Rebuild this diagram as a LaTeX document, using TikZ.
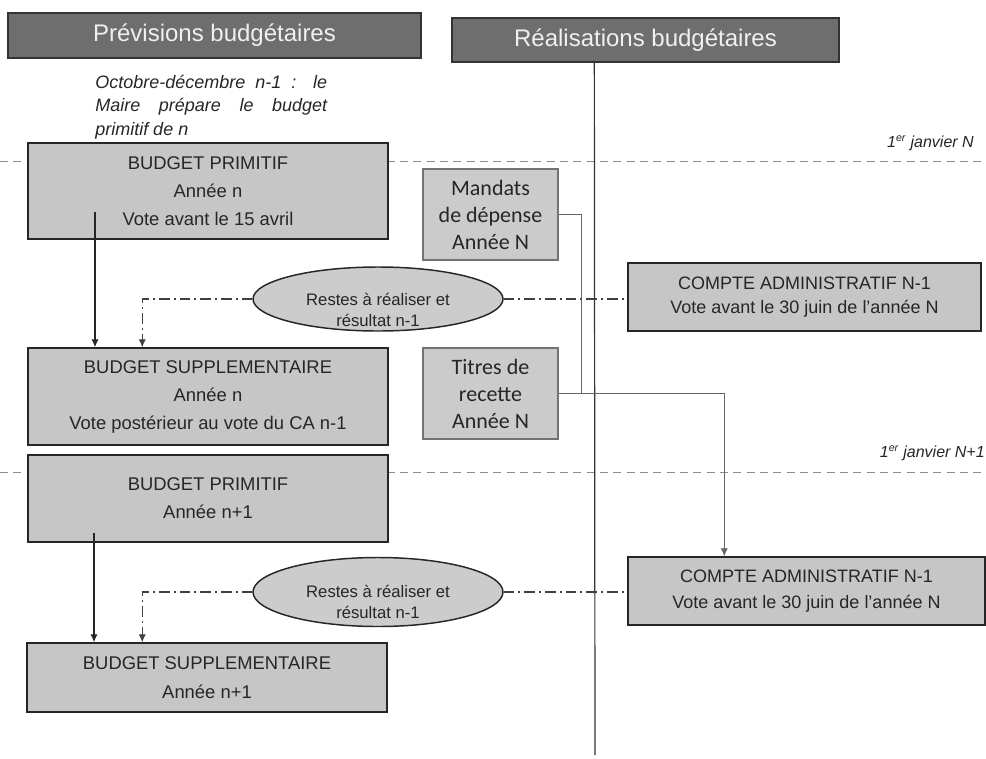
\documentclass[tikz,border=0pt]{standalone}
\usepackage{fontspec}
\setmainfont{Liberation Sans}
\newfontfamily\calib{Carlito}
\usetikzlibrary{arrows.meta,shapes.geometric,calc}
\definecolor{boxgray}{HTML}{C6C6C6}
\definecolor{hdrgray}{HTML}{6E6E6E}
\definecolor{ellgray}{HTML}{CCCCCC}
\definecolor{inkgray}{HTML}{262626}
\definecolor{linegray}{HTML}{8C8C8C}
\begin{document}
\begin{tikzpicture}[x=0.75pt,y=-0.75pt,
  hdr/.style={draw=black!80, line width=1pt, fill=hdrgray, text=white!94!black,
    font=\fontsize{18}{20}\selectfont, inner sep=0pt},
  bbox/.style={draw=inkgray, line width=1.1pt, fill=boxgray, text=inkgray, align=center,
    inner sep=0pt, minimum width=270pt, font=\fontsize{13.8}{21}\selectfont},
  ordre/.style={draw=black!55, line width=0.8pt, fill=boxgray!92!white, text=inkgray,
    align=center, inner sep=0pt, minimum width=101.25pt, minimum height=68.25pt,
    font=\calib\fontsize{16.5}{20.25}\selectfont},
  oval/.style={ellipse, draw=inkgray, line width=1.1pt, fill=ellgray, inner sep=0pt,
    minimum width=187.5pt},
  ovaltext/.style={align=center, inner sep=0pt, text=inkgray, font=\fontsize{12.5}{15.75}\selectfont},
  note/.style={text width=174pt, align=justify, inner sep=0pt, text=inkgray,
    font=\itshape\fontsize{13.5}{17.6}\selectfont},
  datelbl/.style={inner sep=0pt, text=inkgray, font=\itshape\fontsize{12}{14}\selectfont},
  year/.style={draw=linegray, line width=0.7pt, dash pattern=on 6pt off 4pt},
  axis/.style={draw=black!80, line width=0.9pt},
  flow/.style={draw=black!85, line width=0.9pt, -{Latex[length=6pt,width=5.5pt]}},
  dd/.style={draw=black!75, line width=0.9pt, dash pattern=on 8pt off 3pt on 1.5pt off 3pt},
  link/.style={draw=black!60, line width=0.7pt}]
\useasboundingbox (0,0) rectangle (986,758);

% year boundaries
\coordinate (y1l) at (0,161);   \coordinate (y1r) at (986,161);
\coordinate (y2l) at (0,472);   \coordinate (y2r) at (986,472);
\draw[year] (y1l) -- (y1r);
\draw[year] (y2l) -- (y2r);

% column headers
\node[hdr, minimum width=309.75pt, minimum height=33.75pt] (hdr1) at (214.5,35.5) {Prévisions budgétaires};
\node[hdr, minimum width=290.25pt, minimum height=33pt] (hdr2) at (645.5,40) {Réalisations budgétaires};

% separation between forecasts and execution
\coordinate (vt) at ($(hdr2.south west)+(143,0)$);
\coordinate (vb) at (595,755);
\draw[axis] (vt) -- (vb);

\node[note, anchor=north west] (prep) at (95,75)
  {Octobre-décembre n-1 : le\linebreak Maire prépare le budget\linebreak primitif de n};

\node[datelbl, anchor=east] (d1) at (974,143) {1\textsuperscript{er} janvier N};
\node[datelbl, anchor=east] (d2) at (985,453) {1\textsuperscript{er} janvier N+1};

% forecast boxes
\node[bbox, minimum height=72pt] (bp1) at (208,191)
  {BUDGET PRIMITIF\\Année n\\Vote avant le 15 avril};
\node[bbox, minimum height=72.75pt] (bs1) at (208,396.5)
  {BUDGET SUPPLEMENTAIRE\\Année n\\Vote postérieur au vote du CA n-1};
\node[bbox, minimum height=65.25pt] (bp2) at (208,498.5)
  {BUDGET PRIMITIF\\Année n+1};
\node[bbox, minimum height=51.75pt, font=\fontsize{13.8}{22}\selectfont] (bs2) at (207,677.5)
  {BUDGET SUPPLEMENTAIRE\\Année n+1};

% mandates and receipts
\node[ordre] (man) at (490.5,214.5) {Mandats\\de dépense\\Année N};
\node[ordre] (tit) at (490.5,393.5) {Titres de\\recette\\Année N};

% administrative accounts
\node[bbox, minimum width=264.75pt, minimum height=51pt, font=\fontsize{13.5}{18}\selectfont] (ca1) at (804.5,297)
  {COMPTE ADMINISTRATIF N-1\\Vote avant le 30 juin de l'année N};
\node[bbox, minimum width=267.75pt, minimum height=51pt, font=\fontsize{13.5}{19.5}\selectfont] (ca2) at (806.5,591)
  {COMPTE ADMINISTRATIF N-1\\Vote avant le 30 juin de l'année N};

% carried-over balances
\node[oval, minimum height=48pt] (e1) at (378,299) {};
\node[ovaltext] (e1t) at (378,310) {Restes à réaliser et\\résultat n-1};
\node[oval, minimum height=51.75pt] (e2) at (378,592) {};
\node[ovaltext] (e2t) at (378,602) {Restes à réaliser et\\résultat n-1};

% budget sequence
\coordinate (s1) at (95,212);
\draw[flow] (s1) -- (s1 |- bs1.north);
\coordinate (s2) at (94,533);
\draw[flow] (s2) -- (s2 |- bs2.north);

% balances feeding the supplementary budgets
\draw[dd, -{Latex[length=6pt,width=5.5pt]}] (e1.west) -| ($(bs1.north west)+(115,0)$);
\draw[dd] (e1.east) -- (e1.east -| ca1.west);
\draw[dd, -{Latex[length=6pt,width=5.5pt]}] (e2.west) -| ($(bs2.north west)+(116,0)$);
\draw[dd] (e2.east) -- (e2.east -| ca2.west);

% execution feeding the administrative account
\coordinate (j) at ($(tit.east)+(23,0)$);
\draw[link] (man.east) -| (j);
\draw[link, -{Latex[length=6pt,width=5.5pt]}] (tit.east) -| ($(ca2.north west)+(97,0)$);
\end{tikzpicture}
\end{document}
